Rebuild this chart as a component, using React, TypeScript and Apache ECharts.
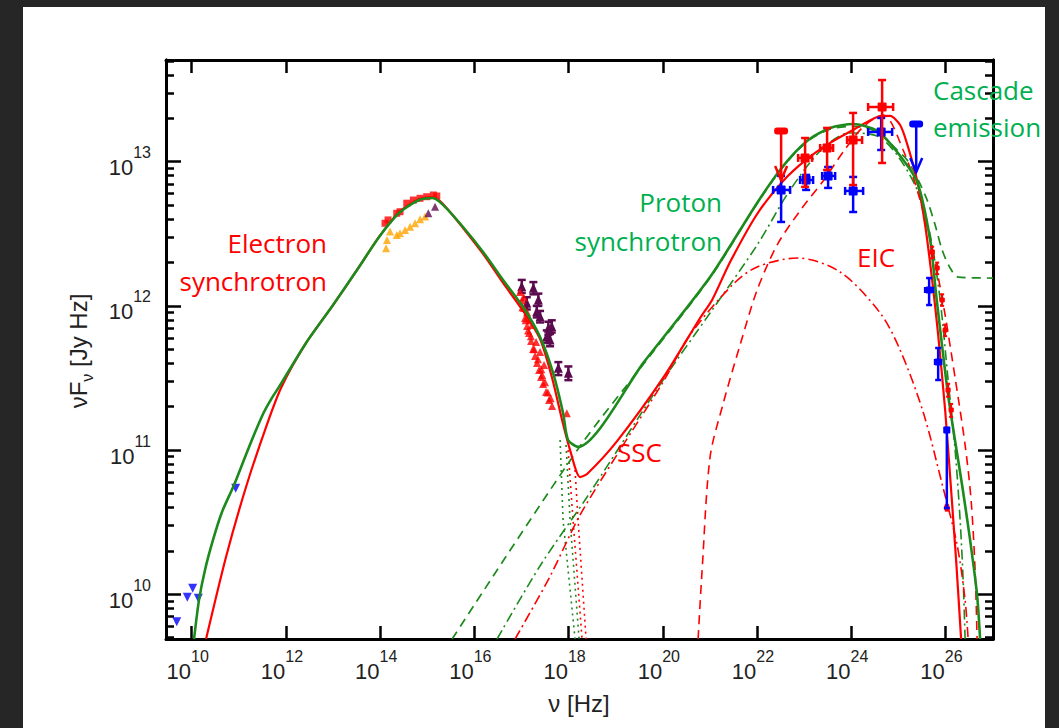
import React, { useEffect, useRef } from "react";
import * as echarts from "echarts";

// All values are log10(nu / Hz) and log10(nuF_nu / Jy Hz).
const X_MIN = 9.454;
const X_MAX = 27.01;
const Y_MIN = 9.69;
const Y_MAX = 13.705;
const xTickValues = [10, 12, 14, 16, 18, 20, 22, 24, 26];
const yTickValues = [10, 11, 12, 13];
const yMinorFactors = [2, 3, 4, 5, 6, 7, 8, 9];
const yDecades = [9, 10, 11, 12, 13];

// model curves
const greenTotal = [
  [10.049, 9.69], [10.155, 9.961], [10.282, 10.169], [10.452, 10.377], [10.643, 10.571],
  [10.898, 10.758], [11.217, 11.022], [11.514, 11.25], [11.7, 11.36], [11.854, 11.438],
  [12.427, 11.743], [13.0, 12.006], [13.552, 12.27], [13.977, 12.478], [14.401, 12.644],
  [14.826, 12.734], [15.123, 12.748], [15.335, 12.7], [15.76, 12.547], [16.185, 12.374],
  [16.609, 12.18], [17.034, 11.992], [17.395, 11.784], [17.671, 11.535], [17.883, 11.257],
  [17.989, 11.07], [18.202, 11.022], [19.6, 11.61], [21.004, 12.2], [22.003, 12.714],
  [22.555, 12.97], [23.064, 13.144], [23.553, 13.234], [24.041, 13.261], [24.55, 13.213],
  [24.975, 13.067], [25.4, 12.859], [25.676, 12.457], [25.803, 12.076], [25.952, 11.66],
  [26.057, 11.382], [26.185, 11.105], [26.354, 10.758], [26.524, 10.377], [26.672, 9.995],
  [26.736, 9.69],
];
const redTotal = [
  [10.304, 9.69], [10.728, 10.259], [11.153, 10.744], [11.578, 11.16], [11.896, 11.431],
  [12.427, 11.743], [13.0, 12.006], [13.552, 12.27], [13.977, 12.478], [14.401, 12.651],
  [14.826, 12.741], [15.123, 12.755], [15.335, 12.707], [15.76, 12.54], [16.185, 12.36],
  [16.609, 12.159], [17.034, 11.965], [17.395, 11.77], [17.65, 11.5], [17.862, 11.209],
  [18.032, 11.0], [18.244, 10.813], [18.393, 10.834], [19.03, 11.062], [20.006, 11.5],
  [20.792, 11.916], [21.047, 12.041], [21.429, 12.304], [22.003, 12.637], [22.555, 12.866],
  [23.064, 13.019], [23.553, 13.13], [24.041, 13.22], [24.55, 13.31], [24.826, 13.317],
  [25.039, 13.254], [25.187, 13.123], [25.4, 12.866], [25.569, 12.561], [25.718, 12.18],
  [25.846, 11.798], [25.994, 11.278], [26.121, 10.723], [26.227, 10.237], [26.333, 9.69],
];
const greenSyncDotA = [[17.82, 11.07], [17.883, 10.515], [18.138, 9.69]];
const greenSyncDotB = [[17.946, 11.035], [18.032, 10.515], [18.223, 9.69]];
const redSyncDotA = [[17.989, 11.0], [18.095, 10.515], [18.286, 9.69]];
const redSyncDotB = [[18.138, 10.862], [18.202, 10.515], [18.372, 9.69]];
const greenDashed = [
  [15.528, 9.69], [18.202, 11.008], [19.6, 11.6], [21.004, 12.195], [22.003, 12.71],
  [22.555, 12.965], [23.064, 13.138], [23.553, 13.225], [24.041, 13.245], [24.55, 13.205],
  [24.975, 13.081], [25.187, 13.012], [25.42, 12.873], [25.612, 12.734], [25.782, 12.561],
  [25.93, 12.388], [26.1, 12.263], [26.27, 12.2], [27.01, 12.193],
];
const greenDashDot = [
  [16.482, 9.69], [17.4, 10.2], [18.393, 10.675], [20.006, 11.486], [21.004, 11.951],
  [22.003, 12.422], [22.703, 12.804], [23.404, 13.095], [23.977, 13.199], [24.55, 13.178],
  [24.975, 13.046], [25.4, 12.804], [25.676, 12.492], [25.888, 12.041], [26.057, 11.486],
  [26.206, 11.001], [26.312, 10.515], [26.376, 10.099], [26.418, 9.69],
];
const redDashedEIC = [
  [20.75, 9.69], [20.835, 10.168], [21.004, 10.952], [21.28, 11.32], [21.641, 11.729],
  [22.003, 12.11], [22.427, 12.422], [22.915, 12.66], [23.404, 12.866], [23.829, 13.067],
  [24.253, 13.241], [24.678, 13.324], [25.102, 13.081], [25.463, 12.734], [25.782, 12.304],
  [25.994, 11.936], [26.206, 11.5], [26.418, 11.035], [26.545, 10.654], [26.63, 10.168],
  [26.672, 9.69],
];
const redDashDotSSC = [
  [16.864, 9.69], [17.6, 10.12], [18.244, 10.55], [19.093, 11.001], [20.006, 11.472],
  [20.58, 11.8], [21.493, 12.15], [22.003, 12.27], [22.852, 12.332], [23.765, 12.235],
  [24.614, 11.951], [25.039, 11.694], [25.527, 11.264], [25.952, 10.737], [26.249, 10.341],
  [26.418, 9.96], [26.482, 9.69],
];

// data points
const radioUpperLimits = [[9.682, 9.81], [9.907, 9.979], [10.021, 10.042], [10.14, 9.972], [10.934, 10.735]];
const opticalOrange = [
  [14.125, 12.399], [14.146, 12.457], [14.21, 12.515], [14.352, 12.492], [14.422, 12.503],
  [14.529, 12.526], [14.635, 12.549], [14.741, 12.573], [14.847, 12.6], [14.953, 12.619],
];
const opticalRed = [
  [14.104, 12.573], [14.168, 12.596], [14.352, 12.642], [14.422, 12.653], [14.565, 12.712],
  [14.705, 12.734], [14.847, 12.746], [14.989, 12.757], [15.13, 12.769], [15.202, 12.762],
];
const opticalPurple = [[15.023, 12.642], [15.166, 12.688]];
// [x, y, xlo, xhi, ylo, yhi]
const xrayPurple = [
  [17.006, 12.133, 17.006, 17.006, 12.09, 12.18], [17.253, 12.122, 17.253, 17.253, 12.08, 12.165],
  [17.113, 12.018, 17.113, 17.113, 11.975, 12.06], [17.359, 12.041, 17.359, 17.359, 12.0, 12.085],
  [17.325, 11.96, 17.325, 17.325, 11.92, 12.0], [17.395, 11.925, 17.395, 17.395, 11.885, 11.965],
  [17.571, 11.845, 17.571, 17.571, 11.8, 11.89], [17.643, 11.856, 17.643, 17.643, 11.815, 11.9],
  [17.537, 11.786, 17.537, 17.537, 11.745, 11.83], [17.607, 11.763, 17.607, 17.607, 11.72, 11.805],
  [17.783, 11.567, 17.783, 17.783, 11.52, 11.61], [17.996, 11.533, 17.996, 17.996, 11.485, 11.58],
];
const xrayRed = [
  [16.97, 12.097], [17.013, 12.041], [17.055, 11.985], [17.076, 11.916], [17.119, 11.861],
  [17.161, 11.812], [17.204, 11.757], [17.246, 11.701], [17.289, 11.653], [17.331, 11.604],
  [17.374, 11.556], [17.416, 11.507], [17.459, 11.458], [17.522, 11.403], [17.586, 11.347],
  [17.65, 11.306], [17.962, 11.255], [17.119, 11.956], [17.225, 11.867], [17.31, 11.749],
  [17.395, 11.68], [17.48, 11.59], [17.05, 12.06], [17.17, 11.9], [17.44, 11.52],
  [17.02, 11.99], [17.09, 11.9], [17.14, 11.83], [17.2, 11.79], [17.27, 11.7],
  [17.35, 11.63], [17.42, 11.56], [17.5, 11.47], [17.56, 11.4], [17.62, 11.36],
];
const gammaRed = [
  [23.021, 13.026, 22.873, 23.17, 12.825, 13.164],
  [23.488, 13.095, 23.34, 23.616, 12.942, 13.234],
  [24.04, 13.15, 23.912, 24.231, 12.838, 13.338],
  [24.656, 13.379, 24.359, 24.89, 12.991, 13.566],
];
// [x, y, xlo, xhi, arrow tip]
const gammaRedUL = [[22.512, 13.213, 22.363, 22.66, 12.873]];
const gammaBlue = [
  [22.512, 12.804, 22.342, 22.703, 12.582, 12.901],
  [23.043, 12.873, 22.915, 23.191, 12.804, 12.908],
  [23.51, 12.901, 23.383, 23.659, 12.818, 12.963],
  [24.041, 12.797, 23.871, 24.253, 12.651, 12.894],
  [24.636, 13.206, 24.359, 24.869, 13.081, 13.303],
];
const gammaBlueUL = [[25.38, 13.261, 25.231, 25.527, 12.929]];
const hessBlue = [
  [25.654, 12.11, 25.569, 25.739, 12.006, 12.193],
  [25.846, 11.611, 25.78, 25.91, 11.486, 11.708],
  [26.03, 11.139, 25.99, 26.07, 10.598, 11.153],
];
const hessRed = [
  [25.718, 12.374, 25.69, 25.75, 12.33, 12.41], [25.824, 12.263, 25.8, 25.85, 12.22, 12.3],
  [25.93, 12.041, 25.9, 25.96, 12.0, 12.08], [25.994, 11.833, 25.97, 26.02, 11.79, 11.87],
  [26.057, 11.417, 26.03, 26.08, 11.37, 11.46], [26.121, 11.278, 26.1, 26.15, 11.23, 11.32],
  [26.03, 10.6, 26.0, 26.06, 10.58, 10.62],
];

const RED = "#ff0000";
const GREEN_LINE = "#1c8a1c";
const GREEN_TEXT = "#00b050";
const BLUE = "#0000ff";
const ORANGE = "#ffa500";
const PURPLE = "#5c0a4f";
const TICK_FONT = "Liberation Sans";
const NOTE_FONT = "Open Sans";

function errorBarItem(color: string, lw: number, cap: number, marker: string, msize: number) {
  return (_p: any, api: any) => {
    const x = api.value(0);
    const y = api.value(1);
    const c = api.coord([x, y]);
    const xl = api.coord([api.value(2), y])[0];
    const xh = api.coord([api.value(3), y])[0];
    const yl = api.coord([x, api.value(4)])[1];
    const yh = api.coord([x, api.value(5)])[1];
    const st = { stroke: color, lineWidth: lw };
    const ch: any[] = [
      { type: "line", shape: { x1: c[0], y1: yl, x2: c[0], y2: yh }, style: st },
    ];
    if (xh - xl > 1) {
      ch.push({ type: "line", shape: { x1: xl, y1: c[1], x2: xh, y2: c[1] }, style: st });
      if (cap > 0) {
        ch.push({ type: "line", shape: { x1: xl, y1: c[1] - cap, x2: xl, y2: c[1] + cap }, style: st });
        ch.push({ type: "line", shape: { x1: xh, y1: c[1] - cap, x2: xh, y2: c[1] + cap }, style: st });
      }
    }
    if (cap > 0) {
      ch.push({ type: "line", shape: { x1: c[0] - cap, y1: yl, x2: c[0] + cap, y2: yl }, style: st });
      ch.push({ type: "line", shape: { x1: c[0] - cap, y1: yh, x2: c[0] + cap, y2: yh }, style: st });
    }
    const h = msize / 2;
    if (marker === "square") {
      ch.push({ type: "rect", shape: { x: c[0] - h, y: c[1] - h, width: msize, height: msize, r: 1 }, style: { fill: color } });
    } else if (marker === "tri") {
      ch.push({
        type: "polygon",
        shape: { points: [[c[0], c[1] - h - 1], [c[0] - h, c[1] + h], [c[0] + h, c[1] + h]] },
        style: { fill: color },
      });
    }
    return { type: "group", children: ch };
  };
}

function upperLimitItem(color: string) {
  return (_p: any, api: any) => {
    const x = api.value(0);
    const y = api.value(1);
    const c = api.coord([x, y]);
    const xl = api.coord([api.value(2), y])[0];
    const xh = api.coord([api.value(3), y])[0];
    const tip = api.coord([x, api.value(4)])[1];
    return {
      type: "group",
      children: [
        { type: "rect", shape: { x: xl, y: c[1] - 3.5, width: xh - xl, height: 7, r: 3 }, style: { fill: color } },
        { type: "line", shape: { x1: c[0], y1: c[1], x2: c[0], y2: tip }, style: { stroke: color, lineWidth: 2.5 } },
        {
          type: "polyline",
          shape: { points: [[c[0] - 6, tip - 14], [c[0], tip], [c[0] + 6, tip - 14]] },
          style: { stroke: color, lineWidth: 2.5, fill: "none" },
        },
      ],
    };
  };
}

function lineSeries(name: string, data: number[][], color: string, width: number, type: any, smooth: number) {
  return {
    name,
    type: "line",
    data,
    showSymbol: false,
    symbol: "none",
    smooth,
    lineStyle: { color, width, type },
    z: 3,
    silent: true,
  };
}

const tickLabelFormatter = (v: number) => `{b|10}{s|${Math.round(v)}}`;
const tickRich = {
  b: { fontSize: 22, fontFamily: TICK_FONT, color: "#222", verticalAlign: "bottom" },
  s: { fontSize: 16, fontFamily: TICK_FONT, color: "#222", verticalAlign: "top" },
};

export default function App() {
  const ref = useRef<HTMLDivElement>(null);
  useEffect(() => {
    if (!ref.current) return;
    const chart = echarts.init(ref.current, undefined, { renderer: "svg" });
    const yMinor: number[] = [];
    yDecades.forEach((d) =>
      yMinorFactors.forEach((f) => {
        const v = d + Math.log10(f);
        if (v > Y_MIN && v < Y_MAX) yMinor.push(v);
      })
    );
    const axisLine = { show: true, onZero: false, lineStyle: { color: "#000", width: 3 } };
    const tickLine = { color: "#000", width: 2.5 };
    const xBase = { type: "value", min: X_MIN, max: X_MAX, splitLine: { show: false }, axisLine };
    const yBase = { type: "value", min: Y_MIN, max: Y_MAX, splitLine: { show: false }, axisLine };
    const option: any = {
      animation: false,
      backgroundColor: "#ffffff",
      grid: { left: 166, top: 60, width: 827, height: 579, containLabel: false },
      xAxis: [
        {
          ...xBase,
          position: "bottom",
          axisTick: { show: true, inside: true, length: 13, customValues: xTickValues, lineStyle: tickLine },
          axisLabel: {
            show: true,
            customValues: xTickValues,
            margin: 9,
            lineHeight: 34,
            padding: [0, 8, 0, 0],
            formatter: tickLabelFormatter,
            rich: tickRich,
          },
        },
        {
          ...xBase,
          position: "top",
          axisTick: { show: true, inside: true, length: 13, customValues: xTickValues, lineStyle: tickLine },
          axisLabel: { show: false },
        },
      ],
      yAxis: [
        {
          ...yBase,
          position: "left",
          axisTick: { show: true, inside: true, length: 15, customValues: yTickValues, lineStyle: tickLine },
          axisLabel: {
            show: true,
            customValues: yTickValues,
            margin: 15,
            lineHeight: 34,
            formatter: tickLabelFormatter,
            rich: tickRich,
          },
        },
        {
          ...yBase,
          position: "left",
          axisTick: { show: true, inside: true, length: 8, customValues: yMinor, lineStyle: tickLine },
          axisLabel: { show: false },
        },
        {
          ...yBase,
          position: "right",
          axisTick: { show: true, inside: true, length: 15, customValues: yTickValues, lineStyle: tickLine },
          axisLabel: { show: false },
        },
        {
          ...yBase,
          position: "right",
          axisTick: { show: true, inside: true, length: 8, customValues: yMinor, lineStyle: tickLine },
          axisLabel: { show: false },
        },
      ],
      series: [
        {
          type: "scatter", data: radioUpperLimits, symbol: "triangle", symbolRotate: 180, symbolSize: 9,
          itemStyle: { color: BLUE }, z: 2, silent: true,
        },
        { type: "scatter", data: opticalOrange, symbol: "triangle", symbolSize: 8, itemStyle: { color: ORANGE }, z: 2, silent: true },
        { type: "scatter", data: opticalRed, symbol: "rect", symbolSize: 7, itemStyle: { color: RED }, z: 2, silent: true },
        { type: "scatter", data: opticalPurple, symbol: "triangle", symbolSize: 8, itemStyle: { color: PURPLE }, z: 2, silent: true },
        { type: "scatter", data: xrayRed, symbol: "triangle", symbolSize: 8, itemStyle: { color: RED }, z: 2, silent: true },
        { type: "custom", data: xrayPurple, renderItem: errorBarItem(PURPLE, 2.5, 4, "tri", 9), z: 2, silent: true },
        lineSeries("greenSyncDotA", greenSyncDotA, GREEN_LINE, 1.6, [2, 4], 0),
        lineSeries("greenSyncDotB", greenSyncDotB, GREEN_LINE, 1.6, [2, 4], 0),
        lineSeries("redSyncDotA", redSyncDotA, RED, 1.6, [2, 4], 0),
        lineSeries("redSyncDotB", redSyncDotB, RED, 1.6, [2, 4], 0),
        lineSeries("greenDashed", greenDashed, GREEN_LINE, 1.7, [9, 6], 0.3),
        lineSeries("greenDashDot", greenDashDot, GREEN_LINE, 1.6, [10, 4, 2, 4], 0.3),
        lineSeries("redDashedEIC", redDashedEIC, RED, 1.6, [9, 6], 0.3),
        lineSeries("redDashDotSSC", redDashDotSSC, RED, 1.6, [10, 4, 2, 4], 0.3),
        lineSeries("redTotal", redTotal, RED, 2.2, "solid", 0.25),
        lineSeries("greenTotal", greenTotal, GREEN_LINE, 2.6, "solid", 0.25),
        { type: "custom", data: hessRed, renderItem: errorBarItem(RED, 2, 2, "square", 5), z: 4, silent: true },
        { type: "custom", data: hessBlue, renderItem: errorBarItem(BLUE, 2.5, 3, "square", 7), z: 4, silent: true },
        { type: "custom", data: gammaBlue, renderItem: errorBarItem(BLUE, 2.5, 4, "square", 9), z: 4, silent: true },
        { type: "custom", data: gammaRed, renderItem: errorBarItem(RED, 2.5, 4, "square", 9), z: 4, silent: true },
        { type: "custom", data: gammaRedUL, renderItem: upperLimitItem(RED), z: 4, silent: true },
        { type: "custom", data: gammaBlueUL, renderItem: upperLimitItem(BLUE), z: 4, silent: true },
      ],
      graphic: [
        { type: "rect", shape: { x: 0, y: 0, width: 1059, height: 7 }, style: { fill: "#262626" }, silent: true },
        { type: "rect", shape: { x: 0, y: 0, width: 23, height: 728 }, style: { fill: "#262626" }, silent: true },
        { type: "rect", shape: { x: 1045, y: 0, width: 14, height: 728 }, style: { fill: "#262626" }, silent: true },
        {
          type: "text", x: 579, y: 703, z: 10,
          style: { text: "ν [Hz]", fill: "#222", font: `24px "${TICK_FONT}"`, align: "center", verticalAlign: "middle", textAlign: "center", textVerticalAlign: "middle" },
        },
        {
          type: "text", x: 81, y: 351, rotation: Math.PI / 2, z: 10,
          style: {
            text: "{m|νF}{u|ν}{m| [Jy Hz]}",
            align: "center", verticalAlign: "middle", textAlign: "center", textVerticalAlign: "middle",
            rich: {
              m: { fontSize: 24, fontFamily: TICK_FONT, fill: "#222", color: "#222", verticalAlign: "top" },
              u: { fontSize: 16, fontFamily: TICK_FONT, fill: "#222", color: "#222", verticalAlign: "bottom", padding: [13, 0, 0, 0] },
            },
          },
        },
        ...[
          ["Electron", 327, 243, "right", RED],
          ["synchrotron", 327, 281, "right", RED],
          ["Proton", 722, 202, "right", GREEN_TEXT],
          ["synchrotron", 722, 241, "right", GREEN_TEXT],
          ["EIC", 857, 257, "left", RED],
          ["SSC", 617, 452, "left", RED],
          ["Cascade", 933, 90, "left", GREEN_TEXT],
          ["emission", 933, 127, "left", GREEN_TEXT],
        ].map(([t, x, y, a, col]) => ({
          type: "text", x, y, z: 10,
          style: {
            text: t, fill: col, font: `26px "${NOTE_FONT}"`,
            align: a, verticalAlign: "middle", textAlign: a, textVerticalAlign: "middle",
          },
        })),
      ],
    };
    chart.setOption(option);
    return () => chart.dispose();
  }, []);
  return <div ref={ref} style={{ position: "fixed", left: 0, top: 0, width: 1059, height: 728 }} />;
}
